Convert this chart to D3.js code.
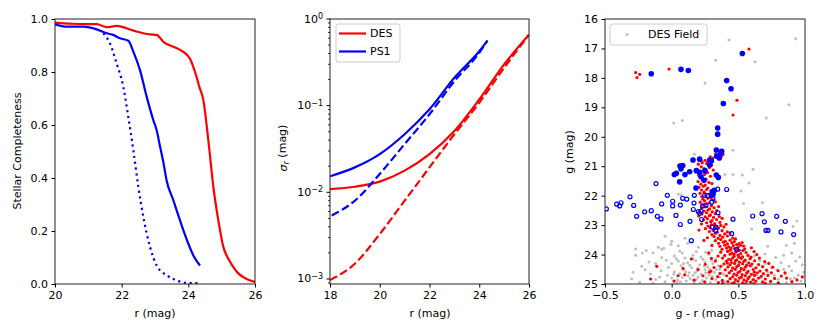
<!DOCTYPE html>
<html><head><meta charset="utf-8">
<script src="https://cdn.jsdelivr.net/npm/d3@7"></script>
<style>body{margin:0;background:#fff} text{font-family:"DejaVu Sans",sans-serif;fill:#000}</style>
</head><body><svg id="c" width="830" height="332"></svg>
<script>
// ---------- Panel 1: completeness ----------
const desCompR = [20,20.5,21,21.25,21.55,21.85,22.35,22.85,23.05,23.25,23.55,23.8,24.05,24.25,24.33,24.45,24.6,24.75,24.9,25.05,25.2,25.35,25.5,25.65,25.8,26];
const desComp  = [0.986,0.982,0.981,0.981,0.969,0.974,0.956,0.942,0.94,0.914,0.895,0.88,0.85,0.78,0.744,0.694,0.543,0.367,0.24,0.14,0.095,0.064,0.04,0.026,0.016,0.008];
const ps1CompR = [20,20.35,20.85,21.25,21.55,21.75,21.95,22.2,22.35,22.55,22.75,22.95,23.05,23.15,23.25,23.35,23.55,23.65,23.85,24.0,24.15,24.35];
const ps1Comp  = [0.98,0.971,0.971,0.961,0.946,0.94,0.927,0.918,0.877,0.807,0.707,0.618,0.58,0.52,0.46,0.39,0.316,0.278,0.203,0.152,0.108,0.07];
const ps1ModR  = [21.45,21.65,21.85,22.05,22.2,22.35,22.5,22.65,22.85,23.05,23.35,23.65,23.95,24.35];
const ps1Mod   = [0.946,0.908,0.832,0.744,0.63,0.505,0.367,0.253,0.14,0.07,0.033,0.014,0.004,0.003];

// ---------- Panel 2: photometric errors ----------
const desSigR   = [18,19,20,21,22,23,24,25,26];
const desSig    = [0.0109,0.0116,0.0133,0.0178,0.0276,0.051,0.118,0.3,0.66];
const desSigStat= [0.00097,0.0015,0.0033,0.008,0.0194,0.0468,0.108,0.273,0.66];
const ps1SigR   = [18,19,20,21,22,23,24,24.33];
const ps1Sig    = [0.0153,0.0194,0.0276,0.0468,0.0908,0.21,0.425,0.563];
const ps1SigStatR = [18.07,19,20,21,22,23,24,24.33];
const ps1SigStat  = [0.0054,0.008,0.0163,0.036,0.0795,0.192,0.407,0.563];

// ---------- Panel 3: CMD ----------
const fieldPts = [[0.43,16.71],[0.93,16.67],[0.33,17.40],[0.625,17.45],[0.25,18.17],[0.88,18.91],[0.71,19.36],[0.08,19.45],[0.015,19.53],[0.17,20.59],[0.46,20.46],
[0.4,21.28],[0.46,21.28],[0.53,21.3],[0.61,21.1],[0.58,21.57],[0.52,21.84],[0.54,22.27],[0.68,22.24],[0.05,21.94],[0.07,21.98],[0.94,22.86],[0.91,23.05],[0.6,23.13],
[-0.05,23.38],[0.1,23.45],[0.0,23.55],[-0.075,23.82],
[-0.27,23.81],[-0.1,23.75],[-0.06,23.79],[-0.005,23.65],[0.05,23.7],[0.12,23.62],[0.2,23.75],[0.45,23.6],[0.55,23.7],[0.72,23.72],[0.86,23.68],[0.92,23.62],[-0.19,23.86],[0.3,23.85],
[-0.27,24.02],[-0.22,23.95],[-0.075,24.1],[-0.04,24.19],[0.02,24.05],[0.08,23.95],[0.1,24.12],[0.16,24.02],[0.22,24.08],[0.28,24.0],[0.33,24.15],[0.62,24.05],[0.7,23.98],[0.78,24.1],[0.84,24.02],[0.9,23.95],[0.96,24.08],
[-0.225,24.4],[-0.17,24.25],[-0.12,24.3],[-0.025,24.43],[0.0,24.3],[0.05,24.22],[0.07,24.38],[0.12,24.28],[0.15,24.45],[0.18,24.2],[0.21,24.35],[0.25,24.25],[0.27,24.42],[0.31,24.3],[0.35,24.38],[0.4,24.25],[0.6,24.4],[0.7,24.3],[0.75,24.45],[0.82,24.28],[0.88,24.4],[0.93,24.22],[0.98,24.35],
[-0.29,24.6],[-0.16,24.66],[-0.08,24.55],[-0.03,24.7],[0.02,24.58],[0.06,24.65],[0.09,24.52],[0.13,24.62],[0.16,24.7],[0.19,24.56],[0.22,24.66],[0.25,24.52],[0.28,24.7],[0.32,24.6],[0.36,24.5],[0.39,24.68],[0.43,24.58],[0.58,24.55],[0.64,24.68],[0.72,24.6],[0.79,24.52],[0.85,24.65],[0.9,24.55],[0.95,24.7],[0.99,24.6],
[-0.24,24.94],[-0.3,24.82],[-0.12,24.85],[-0.05,24.92],[0.0,24.8],[0.04,24.95],[0.08,24.78],[0.11,24.9],[0.14,24.82],[0.17,24.96],[0.2,24.76],[0.23,24.88],[0.26,24.8],[0.29,24.95],[0.33,24.85],[0.36,24.76],[0.4,24.92],[0.44,24.82],[0.48,24.95],[0.52,24.78],[0.6,24.9],[0.67,24.8],[0.74,24.92],[0.8,24.84],[0.86,24.95],[0.92,24.8],[0.97,24.9],
[0.5,24.3],[0.55,24.7],[0.46,24.45],
[0.035,24.14],[0.135,24.36],[0.195,24.47],[0.235,24.16],[0.285,24.5],[0.105,24.58],[0.175,24.62],[0.045,24.86],[0.125,24.73],[0.255,24.62],[0.305,24.74],[0.215,24.97],
[0.335,24.52],[0.375,24.63],[-0.09,24.76],[-0.2,24.52],[0.015,24.66],[0.065,24.92],[0.245,24.4],[0.185,24.84],[-0.14,24.97],[0.09,24.3],[0.16,24.15],[0.3,24.2],
[0.06,23.88],[0.185,23.9],[0.255,23.92],[-0.14,23.94],[0.84,24.5],[0.66,24.2],[0.77,24.7],[0.89,24.82]];

const memberPts = [[-0.27,17.82],[-0.26,17.99],[-0.24,17.88],[-0.02,17.7],[0.58,17.02],[0.49,18.76],[0.46,19.26],
[0.36,20.62],[0.372,20.66],[0.385,20.6],[0.35,20.6],[0.33,20.57],[0.27,20.86],[0.25,20.8],[0.23,20.88],[0.22,20.81],[0.31,20.72],[0.29,20.68],
[0.2,20.93],[0.262,20.91],[0.3,20.96],[0.222,21.02],[0.283,21.04],[0.193,21.12],[0.243,21.08],[0.312,21.13],[0.214,21.19],[0.268,21.22],
[0.203,21.31],[0.247,21.28],[0.291,21.34],[0.226,21.41],[0.258,21.44],[0.198,21.52],[0.236,21.49],[0.279,21.55],[0.219,21.61],[0.252,21.64],[0.302,21.59],
[0.205,21.72],[0.238,21.68],[0.271,21.74],[0.224,21.81],[0.262,21.79],[0.296,21.84],[0.213,21.92],[0.244,21.88],[0.283,21.95],[0.318,21.9],
[0.226,22.03],[0.255,21.99],[0.288,22.05],[0.234,22.12],[0.272,22.09],[0.309,22.14],[0.214,22.22],[0.247,22.18],[0.282,22.24],[0.328,22.21],
[0.232,22.32],[0.262,22.28],[0.298,22.34],[0.222,22.42],[0.252,22.38],[0.284,22.45],[0.318,22.41],[0.352,22.37],[0.243,22.52],[0.272,22.49],[0.304,22.55],[0.338,22.51],
[0.228,22.62],[0.262,22.58],[0.291,22.65],[0.327,22.61],[0.252,22.72],[0.283,22.68],[0.314,22.74],[0.357,22.71],[0.203,22.69],
[0.238,22.82],[0.268,22.78],[0.302,22.85],[0.337,22.81],[0.378,22.77],[0.262,22.92],[0.293,22.88],[0.322,22.95],[0.362,22.91],[0.224,22.96],
[0.272,23.03],[0.298,22.98],[0.332,23.05],[0.368,23.01],[0.408,22.97],[0.253,23.12],[0.287,23.08],[0.318,23.14],[0.352,23.1],[0.392,23.06],
[0.283,23.22],[0.312,23.18],[0.342,23.24],[0.378,23.19],[0.418,23.23],[0.205,23.17],[0.302,23.32],[0.328,23.28],[0.362,23.35],[0.398,23.3],[0.438,23.27],
[0.268,23.43],[0.318,23.39],[0.348,23.45],[0.383,23.41],[0.418,23.37],[0.458,23.44],[0.328,23.53],[0.368,23.49],[0.402,23.55],[0.438,23.51],[0.478,23.47],[0.242,23.52],
[0.352,23.62],[0.388,23.58],[0.418,23.64],[0.452,23.6],[0.488,23.66],[0.528,23.59],[0.47,23.56],[0.505,23.63],
[0.362,23.72],[0.398,23.68],[0.428,23.74],[0.462,23.7],[0.498,23.76],[0.538,23.71],[0.302,23.69],[0.445,23.78],[0.515,23.68],
[0.378,23.82],[0.412,23.78],[0.442,23.84],[0.472,23.8],[0.508,23.86],[0.548,23.81],[0.598,23.77],[0.425,23.88],[0.492,23.83],
[0.368,23.92],[0.418,23.89],[0.452,23.95],[0.482,23.91],[0.518,23.97],[0.558,23.93],[0.618,23.9],[0.278,23.94],[0.535,23.86],[0.468,23.99],
[0.398,24.03],[0.438,23.99],[0.468,24.06],[0.498,24.02],[0.532,24.08],[0.572,24.03],[0.638,24.0],[0.348,24.05],[0.595,24.09],
[0.382,24.12],[0.428,24.16],[0.458,24.11],[0.488,24.18],[0.522,24.13],[0.552,24.19],[0.588,24.14],[0.658,24.12],[0.298,24.13],[0.148,24.15],[0.505,24.09],
[0.412,24.22],[0.448,24.27],[0.478,24.21],[0.508,24.26],[0.542,24.23],[0.578,24.28],[0.622,24.21],[0.698,24.24],[0.328,24.22],[0.445,24.18],
[0.392,24.32],[0.438,24.35],[0.472,24.3],[0.502,24.37],[0.532,24.31],[0.562,24.36],[0.602,24.32],[0.652,24.34],[0.728,24.3],[0.252,24.33],[0.418,24.29],
[0.422,24.42],[0.458,24.46],[0.488,24.41],[0.522,24.47],[0.552,24.43],[0.588,24.38],[0.632,24.45],[0.682,24.41],[0.758,24.43],[-0.112,24.4],[0.318,24.44],[0.085,24.47],[0.368,24.4],
[0.402,24.52],[0.448,24.55],[0.478,24.5],[0.512,24.57],[0.542,24.52],[0.572,24.58],[0.612,24.51],[0.662,24.56],[0.712,24.53],[0.798,24.55],[0.198,24.51],[0.295,24.56],[0.62,24.6],
[0.432,24.62],[0.468,24.66],[0.498,24.61],[0.528,24.68],[0.562,24.63],[0.598,24.67],[0.642,24.62],[0.688,24.65],[0.748,24.62],[0.362,24.64],[0.282,24.6],[0.85,24.62],
[0.412,24.72],[0.458,24.75],[0.488,24.7],[0.522,24.77],[0.552,24.72],[0.582,24.76],[0.622,24.71],[0.672,24.74],[0.722,24.71],[0.822,24.73],[0.098,24.69],[0.048,24.72],[0.235,24.72],[0.98,24.76],[0.345,24.75],
[0.438,24.82],[0.478,24.85],[0.508,24.8],[0.542,24.86],[0.572,24.82],[0.612,24.85],[0.652,24.8],[0.702,24.83],[0.772,24.81],[0.302,24.82],[-0.158,24.83],[0.862,24.8],[0.168,24.87],[0.94,24.86],[0.38,24.88],
[0.422,24.92],[0.468,24.95],[0.498,24.9],[0.532,24.96],[0.562,24.91],[0.592,24.94],[0.632,24.9],[0.682,24.93],[0.742,24.91],[0.248,24.93],[0.018,24.9],[0.902,24.92],[0.8,24.96],
[0.452,24.99],[0.552,25.0],[0.618,24.99],[0.702,24.98],[0.382,24.98],[0.35,24.95]];

const brightPts = [[0.53,17.17],[-0.153,17.86],[0.07,17.71],[0.125,17.75],[0.4125,18.09],[0.445,18.37],[0.3875,18.87],[0.345,19.70],[0.345,19.91],
[0.335,20.45],[0.375,20.49],[0.37,20.54],[0.3375,20.66],[0.357,20.72],[0.21,20.76],[0.16,20.79],[0.285,20.79],[0.2975,20.82],
[0.0625,20.99],[0.0825,20.98],[0.07,21.09],[0.135,21.19],[0.035,21.24],[0.02,21.28],[0.1,21.28],[0.185,21.15],[0.21,21.21],[0.25,21.15],[0.285,20.96],
[0.335,21.3],[0.35,21.38],[0.22,21.36],[0.06,21.53],[0.2425,21.48],[0.1825,21.74],[0.305,21.87],[0.32,21.82],[0.31,21.95]];

const faintPts = [[-0.49,22.45],[-0.4125,22.29],[-0.39,22.35],[-0.38,22.24],[-0.3125,22.04],[-0.285,22.33],[-0.2625,22.70],[-0.2025,22.55],[-0.153,22.51],
[-0.1175,21.59],[-0.1075,22.70],[-0.08,22.79],[-0.075,22.28],[-0.0325,21.99],[0.0075,22.19],[0.0075,22.35],[0.0325,22.67],[0.065,22.98],[0.065,22.32],
[0.0825,22.09],[0.1125,22.12],[0.1375,22.87],[0.1475,23.53],[0.1625,22.47],[0.1675,22.25],[0.17,21.99],[0.2,22.54],[0.22,22.53],[0.225,22.81],[0.2325,22.35],
[0.2475,21.99],[0.2575,22.33],[0.3,22.22],[0.3025,21.99],[0.3125,21.85],[0.345,21.78],[0.3325,23.07],[0.3475,22.58],[0.305,23.07],[0.4125,21.79],
[0.45,23.29],[0.46,22.8],[0.4875,23.83],[0.6075,22.69],[0.6775,22.61],[0.695,22.89],[0.7075,23.18],[0.7225,23.18],[0.7875,22.7],[0.82,23.23],[0.8525,22.87],[0.915,23.32],
[0.27,22.0],[0.31,22.1],[0.33,23.18],[0.21,22.6]];

const compTicks = [0,0.2,0.4,0.6,0.8,1.0];
const rTicks1 = [20,22,24,26];
const rTicks2 = [18,20,22,24,26];
const sigTicks = [-3,-2,-1,0];
const colorTicks = [-0.5,0,0.5,1.0];
const gTicks = [16,17,18,19,20,21,22,23,24,25];

const svg = d3.select("#c");
const FS = 11;
const RED = "#ff0000", BLUE = "#0000ff", GREY = "#bfbfbf";
const TOP = 19, BOT = 284;

function frame(x0, x1) {
  svg.append("rect").attr("x", x0).attr("y", TOP).attr("width", x1 - x0).attr("height", BOT - TOP)
    .attr("fill", "none").attr("stroke", "#222").attr("stroke-width", 1);
}
function bottomAxis(x, ticks, fmt) {
  const a = svg.append("g").attr("transform", `translate(0,${BOT})`)
    .call(d3.axisBottom(x).tickValues(ticks).tickFormat(fmt).tickSize(3.5).tickPadding(3.5));
  a.select(".domain").remove();
  a.selectAll("text").attr("font-size", FS).attr("font-family", "DejaVu Sans");
  a.selectAll("line").attr("stroke", "#000");
}
function leftAxis(x0, y, ticks, fmt) {
  const a = svg.append("g").attr("transform", `translate(${x0},0)`)
    .call(d3.axisLeft(y).tickValues(ticks).tickFormat(fmt).tickSize(3.5).tickPadding(3.5));
  a.select(".domain").remove();
  a.selectAll("text").attr("font-size", FS).attr("font-family", "DejaVu Sans");
  a.selectAll("line").attr("stroke", "#000");
  return a;
}
function xlabel(cx, txt) {
  svg.append("text").attr("x", cx).attr("y", 317).attr("text-anchor", "middle").attr("font-size", FS).text(txt);
}
function ylabel(cx, cy, txt) {
  return svg.append("text").attr("transform", `translate(${cx},${cy}) rotate(-90)`).attr("text-anchor", "middle")
    .attr("dy", "0.35em").attr("font-size", FS).text(txt);
}
function pairs(xs, ys) { return xs.map((v, i) => [v, ys[i]]); }

// ---------- Panel 1 ----------
{
  const x = d3.scaleLinear([20, 26], [55, 255]);
  const y = d3.scaleLinear([0, 1], [BOT, TOP]);
  svg.append("clipPath").attr("id", "cp1").append("rect").attr("x", 55).attr("y", TOP).attr("width", 200).attr("height", BOT - TOP);
  const g = svg.append("g").attr("clip-path", "url(#cp1)");
  const line = d3.line().x(d => x(d[0])).y(d => y(d[1])).curve(d3.curveMonotoneX);
  g.append("path").attr("d", line(pairs(desCompR, desComp))).attr("fill", "none").attr("stroke", RED).attr("stroke-width", 2.2);
  g.append("path").attr("d", line(pairs(ps1CompR, ps1Comp))).attr("fill", "none").attr("stroke", BLUE).attr("stroke-width", 2.2);
  g.append("path").attr("d", line(pairs(ps1ModR, ps1Mod))).attr("fill", "none").attr("stroke", BLUE).attr("stroke-width", 2.2).attr("stroke-dasharray", "2.2,3.6");
  frame(55, 255);
  bottomAxis(x, rTicks1, d3.format("d"));
  leftAxis(55, y, compTicks, d3.format(".1f"));
  xlabel(155, "r (mag)");
  ylabel(17, 151, "Stellar Completeness");
}

// ---------- Panel 2 ----------
{
  const x = d3.scaleLinear([18, 26], [330, 529]);
  const y = d3.scaleLog([Math.pow(10, -3.058), 1], [BOT, TOP]);
  svg.append("clipPath").attr("id", "cp2").append("rect").attr("x", 330).attr("y", TOP).attr("width", 199).attr("height", BOT - TOP);
  const g = svg.append("g").attr("clip-path", "url(#cp2)");
  const line = d3.line().x(d => x(d[0])).y(d => y(d[1])).curve(d3.curveMonotoneX);
  g.append("path").attr("d", line(pairs(desSigR, desSig))).attr("fill", "none").attr("stroke", RED).attr("stroke-width", 2.2);
  g.append("path").attr("d", line(pairs(desSigR, desSigStat))).attr("fill", "none").attr("stroke", RED).attr("stroke-width", 2.2).attr("stroke-dasharray", "8.1,3.5");
  g.append("path").attr("d", line(pairs(ps1SigR, ps1Sig))).attr("fill", "none").attr("stroke", BLUE).attr("stroke-width", 2.2);
  g.append("path").attr("d", line(pairs(ps1SigStatR, ps1SigStat))).attr("fill", "none").attr("stroke", BLUE).attr("stroke-width", 2.2).attr("stroke-dasharray", "8.1,3.5");
  frame(330, 529);
  bottomAxis(x, rTicks2, d3.format("d"));
  const ax = svg.append("g");
  sigTicks.forEach(e => {
    const yy = y(Math.pow(10, e));
    ax.append("line").attr("x1", 330 - 3.5).attr("x2", 330).attr("y1", yy).attr("y2", yy).attr("stroke", "#000");
    const t = ax.append("text").attr("x", 323).attr("y", yy).attr("dy", "0.32em").attr("text-anchor", "end").attr("font-size", FS);
    t.append("tspan").text("10");
    t.append("tspan").attr("dy", "-0.45em").attr("font-size", 8).text(e === 0 ? "0" : "\u2212" + Math.abs(e));
  });
  for (let e = -4; e < 0; e++) for (let m = 2; m <= 9; m++) {
    const v = m * Math.pow(10, e);
    if (v < y.domain()[0] || v > 1) continue;
    const yy = y(v);
    ax.append("line").attr("x1", 330 - 2).attr("x2", 330).attr("y1", yy).attr("y2", yy).attr("stroke", "#000").attr("stroke-width", 0.8);
  }
  xlabel(430, "r (mag)");
  const yl = svg.append("text").attr("transform", "translate(283,148) rotate(-90)").attr("text-anchor", "middle").attr("dy", "0.35em").attr("font-size", FS);
  yl.append("tspan").attr("font-style", "italic").text("\u03c3");
  yl.append("tspan").attr("font-style", "italic").attr("font-size", 8).attr("dy", "0.3em").text("r");
  yl.append("tspan").attr("dy", "-0.3em").text(" (mag)");
  const lg = svg.append("g");
  lg.append("rect").attr("x", 336).attr("y", 24).attr("width", 64).attr("height", 38).attr("rx", 2.5)
    .attr("fill", "#fff").attr("fill-opacity", 0.8).attr("stroke", "#ccc");
  [["DES", RED, 33.5], ["PS1", BLUE, 51.5]].forEach(([lab, c, yy]) => {
    lg.append("line").attr("x1", 339).attr("x2", 366).attr("y1", yy).attr("y2", yy).attr("stroke", c).attr("stroke-width", 2.2);
    lg.append("text").attr("x", 370).attr("y", yy).attr("dy", "0.35em").attr("font-size", FS).text(lab);
  });
}

// ---------- Panel 3 ----------
{
  const x = d3.scaleLinear([-0.5, 1.0], [605, 805]);
  const y = d3.scaleLinear([16, 25], [TOP, BOT]);
  svg.append("clipPath").attr("id", "cp3").append("rect").attr("x", 605).attr("y", TOP).attr("width", 200).attr("height", BOT - TOP);
  const g = svg.append("g").attr("clip-path", "url(#cp3)");
  g.selectAll("circle.f").data(fieldPts).join("circle").attr("class", "f")
    .attr("cx", d => x(d[0])).attr("cy", d => y(d[1])).attr("r", 1.5).attr("fill", GREY);
  g.selectAll("circle.m").data(memberPts).join("circle").attr("class", "m")
    .attr("cx", d => x(d[0])).attr("cy", d => y(d[1])).attr("r", 1.6).attr("fill", RED);
  g.selectAll("circle.b").data(brightPts).join("circle").attr("class", "b")
    .attr("cx", d => x(d[0])).attr("cy", d => y(d[1])).attr("r", 2.8).attr("fill", BLUE);
  g.selectAll("circle.o").data(faintPts).join("circle").attr("class", "o")
    .attr("cx", d => x(d[0])).attr("cy", d => y(d[1])).attr("r", 2.0).attr("fill", "none").attr("stroke", BLUE).attr("stroke-width", 1.2);
  frame(605, 805);
  bottomAxis(x, colorTicks, d3.format(".1f"));
  leftAxis(605, y, gTicks, d3.format("d"));
  xlabel(705, "g - r (mag)");
  ylabel(569, 152, "g (mag)");
  const lg = svg.append("g");
  lg.append("rect").attr("x", 610).attr("y", 24).attr("width", 97).attr("height", 21).attr("rx", 2.5)
    .attr("fill", "#fff").attr("fill-opacity", 0.8).attr("stroke", "#ccc");
  lg.append("circle").attr("cx", 627).attr("cy", 34.5).attr("r", 1.5).attr("fill", GREY);
  lg.append("text").attr("x", 648).attr("y", 34.5).attr("dy", "0.35em").attr("font-size", FS).text("DES Field");
}
</script></body></html>
